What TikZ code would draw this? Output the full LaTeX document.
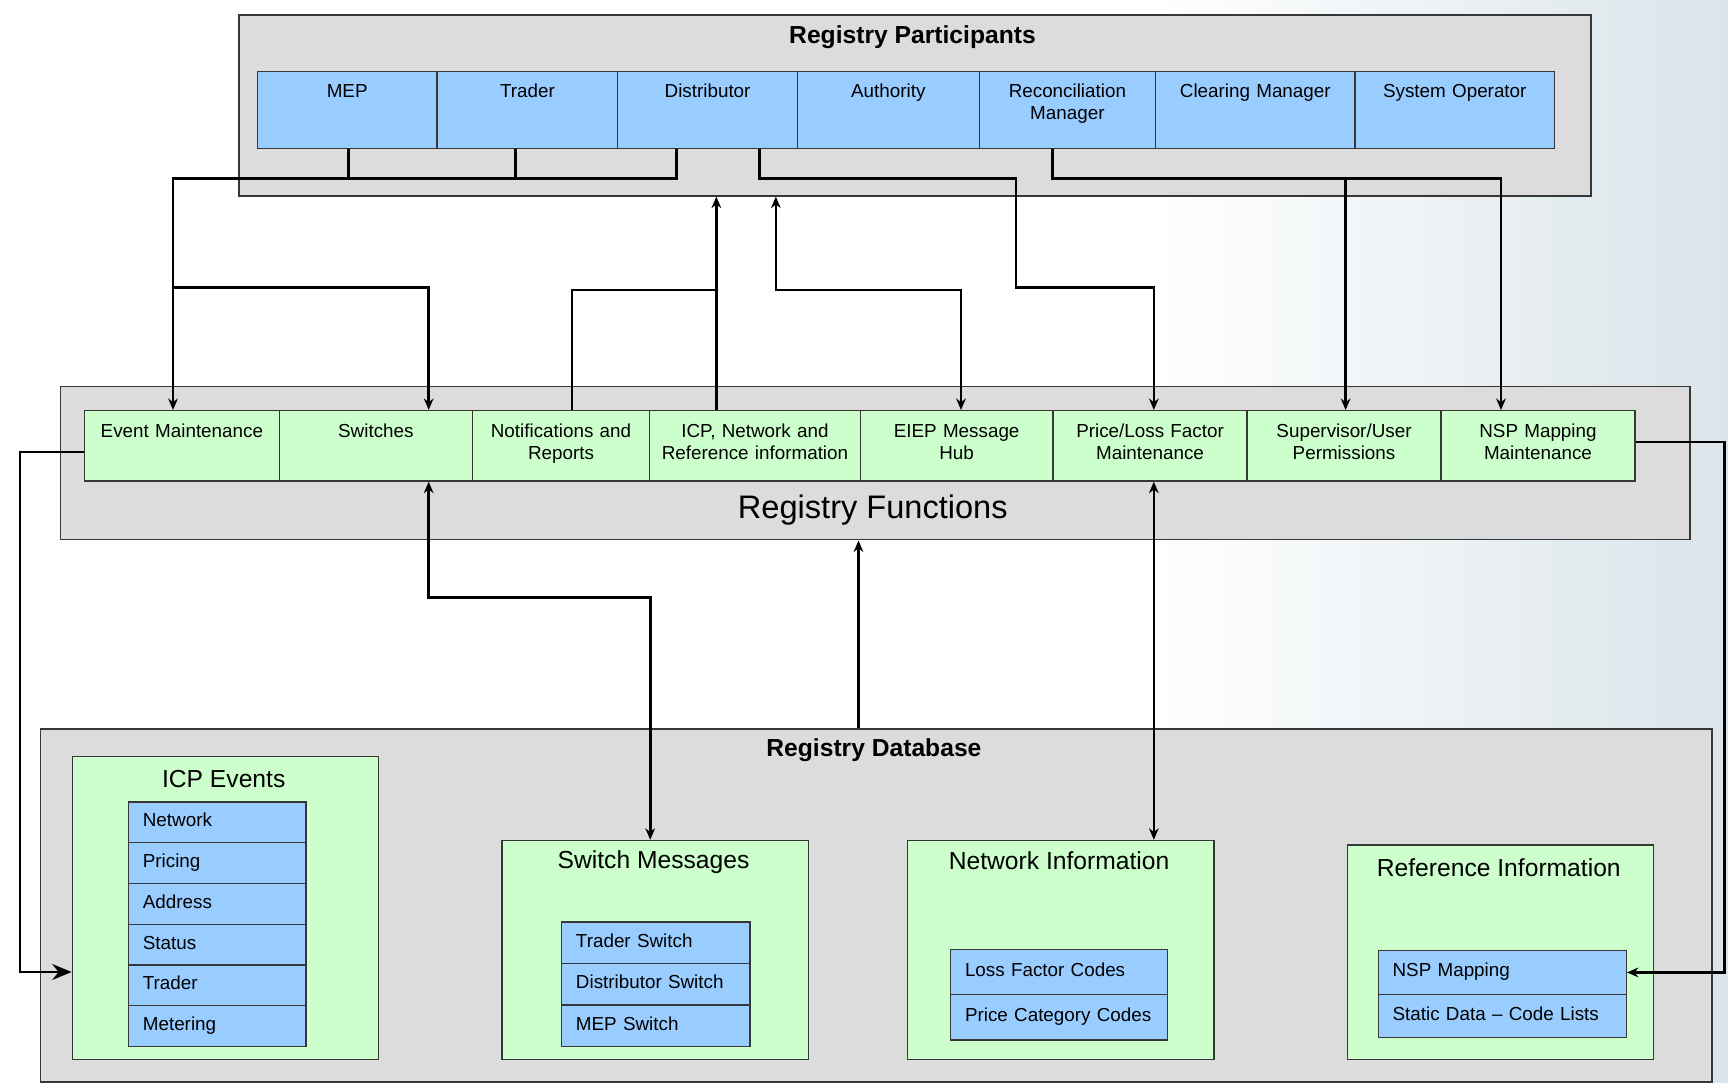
\documentclass[tikz,border=0pt]{standalone}
\usepackage{fontspec}
\setmainfont{Liberation Sans}
\usepackage{xcolor}
\usepackage{tikz}
\usetikzlibrary{arrows.meta}
\definecolor{grpgray}{RGB}{220,220,220}
\definecolor{partblue}{RGB}{153,204,255}
\definecolor{funcgreen}{RGB}{204,255,204}
\definecolor{bgtint}{RGB}{218,228,234}
\definecolor{edgegray}{RGB}{55,55,55}
\newcommand{\pxu}{0.22mm}
\newcommand{\lblfont}{\fontsize{10.7pt}{12.6pt}\selectfont}
\newcommand{\headfont}{\fontsize{14pt}{16pt}\selectfont}
\newcommand{\bigheadfont}{\fontsize{18.5pt}{22pt}\selectfont}

\tikzset{
  >={Stealth[length=6.5pt,width=5.5pt]},
  grp/.style={draw=edgegray, fill=grpgray, line width=0.9pt, anchor=north west, inner sep=0pt},
  cont/.style={draw=edgegray, fill=funcgreen, line width=0.8pt, anchor=north west, inner sep=0pt},
  pbox/.style={draw=edgegray, fill=partblue, line width=0.7pt, anchor=north west, inner sep=0pt,
    text width=#1*\pxu, align=center, text height=24*\pxu, text depth=46*\pxu, font=\lblfont},
  fbox/.style={draw=edgegray, fill=funcgreen, line width=0.7pt, anchor=north west, inner sep=0pt,
    text width=#1*\pxu, align=center, text height=24*\pxu, text depth=40*\pxu, font=\lblfont},
  row/.style={draw=edgegray, fill=partblue, line width=0.8pt, anchor=north west, inner xsep=13*\pxu,
    inner ysep=0pt, text width=(#1-26)*\pxu, align=left, text height=0.72em, text depth=0.22em, font=\lblfont},
  head/.style={font=\headfont\bfseries},
  bighead/.style={font=\bigheadfont},
  ctitle/.style={font=\headfont},
  wire/.style={line width=1.5pt, black},
  bigtip/.style={-{Stealth[length=11pt,width=9pt]}}
}

\begin{document}
\begin{tikzpicture}[x=0.22mm, y=-0.22mm]
        \useasboundingbox (0,0) rectangle (1568,982);
        \fill[white] (0,0) rectangle (1568,982);
        \shade[left color=white, right color=bgtint] (1050,0) rectangle (1568,982);

        % participants
        \node[grp, minimum width=1227*\pxu, minimum height=164*\pxu] (parts) at (216,13) {};
        \node[head] (parts-t) at (828,34) {Registry Participants};
        \node[pbox=163] (mep) at (233,64) {MEP};
        \node[pbox=164] (trader) at (396,64) {Trader};
        \node[pbox=163] (dist) at (560,64) {Distributor};
        \node[pbox=165] (auth) at (723,64) {Authority};
        \node[pbox=160] (rec) at (888,64) {Reconciliation\\Manager};
        \node[pbox=181] (clear) at (1048,64) {Clearing Manager};
        \node[pbox=181] (sysop) at (1229,64) {System Operator};

        % functions
        \node[grp, minimum width=1479*\pxu, minimum height=139*\pxu] (funcs) at (54,350) {};
        \node[bighead] (funcs-t) at (792,463) {Registry Functions};
        \node[fbox=177] (evm) at (76,372) {Event Maintenance};
        \node[fbox=175] (sw) at (253,372) {Switches};
        \node[fbox=161] (nr) at (428,372) {Notifications and\\Reports};
        \node[fbox=191] (icp) at (589,372) {ICP, Network and\\Reference information};
        \node[fbox=175] (eiep) at (780,372) {EIEP Message\\Hub};
        \node[fbox=176] (plm) at (955,372) {Price/Loss Factor\\Maintenance};
        \node[fbox=176] (sup) at (1131,372) {Supervisor/User\\Permissions};
        \node[fbox=176] (nspm) at (1307,372) {NSP Mapping\\Maintenance};

        % database
        \node[grp, minimum width=1517*\pxu, minimum height=320*\pxu] (db) at (36,661) {};
        \node[head] (db-t) at (793,681) {Registry Database};
        \node[cont, minimum width=278*\pxu, minimum height=275*\pxu] (icpev) at (65,686) {};
        \node[cont, minimum width=278*\pxu, minimum height=199*\pxu] (swm) at (455,762) {};
        \node[cont, minimum width=278*\pxu, minimum height=199*\pxu] (netinfo) at (823,762) {};
        \node[cont, minimum width=278*\pxu, minimum height=195*\pxu] (refinfo) at (1222,766) {};
        \node[ctitle] (icpev-t) at (203,707) {ICP Events};
        \node[ctitle] (swm-t) at (593,782) {Switch Messages};
        \node[ctitle] (netinfo-t) at (961,781) {Network Information};
        \node[ctitle] (refinfo-t) at (1360,787) {Reference Information};
        \foreach \lbl [count=\i from 0] in {Network, Pricing, Address, Status, Trader, Metering}
            \node[row=161, minimum height=37*\pxu] (ev-\i) at (116,727+37*\i) {\lbl};
        \foreach \lbl [count=\i from 0] in {Trader Switch, Distributor Switch, MEP Switch}
            \node[row=171, minimum height=37.7*\pxu] (sm-\i) at (509,836+37.7*\i) {\lbl};
        \foreach \lbl [count=\i from 0] in {Loss Factor Codes, Price Category Codes}
            \node[row=197, minimum height=41*\pxu] (ni-\i) at (862,861+41*\i) {\lbl};
        \foreach \lbl [count=\i from 0] in {NSP Mapping, Static Data -- Code Lists}
            \node[row=225, minimum height=39.5*\pxu] (ri-\i) at (1250,862+39.5*\i) {\lbl};

        % participants -> functions
        \draw[wire] (mep.south -| 316,0) -- (316,162);
        \draw[wire] (trader.south -| 468,0) -- (468,162);
        \draw[wire,->] (dist.south -| 614,0) |- (157,162) -- (evm.north -| 157,0);
        \draw[wire,->] (157,261) -| (sw.north -| 389,0);
        \draw[wire,->] (dist.south -| 689,0) |- (922,162) |- (1047,261) -- (plm.north -| 1047,0);
        \draw[wire,->] (rec.south -| 955,0) |- (1362,162) -- (nspm.north -| 1362,0);
        \draw[wire,->] (1221,162) -- (sup.north -| 1221,0);

        % functions -> participants
        \draw[wire,->] (icp.north -| 650,0) -- (parts.south -| 650,0);
        \draw[wire] (nr.north -| 519,0) |- (650,263);
        \draw[wire,<->] (parts.south -| 704,0) |- (872,263) -- (eiep.north -| 872,0);

        % functions <-> database
        \draw[wire,bigtip] (evm.west |- 0,410) -| (18,882) -- (icpev.west |- 0,882);
        \draw[wire,->] (nspm.east |- 0,401) -| (ri-0.east -| 1565,0) -- (ri-0.east);
        \draw[wire,<->] (sw.south -| 389,0) |- (590,542) -- (swm.north -| 590,0);
        \draw[wire,->] (db.north -| 779,0) -- (funcs.south -| 779,0);
        \draw[wire,<->] (plm.south -| 1047,0) -- (netinfo.north -| 1047,0);
    \end{tikzpicture}
\end{document}
